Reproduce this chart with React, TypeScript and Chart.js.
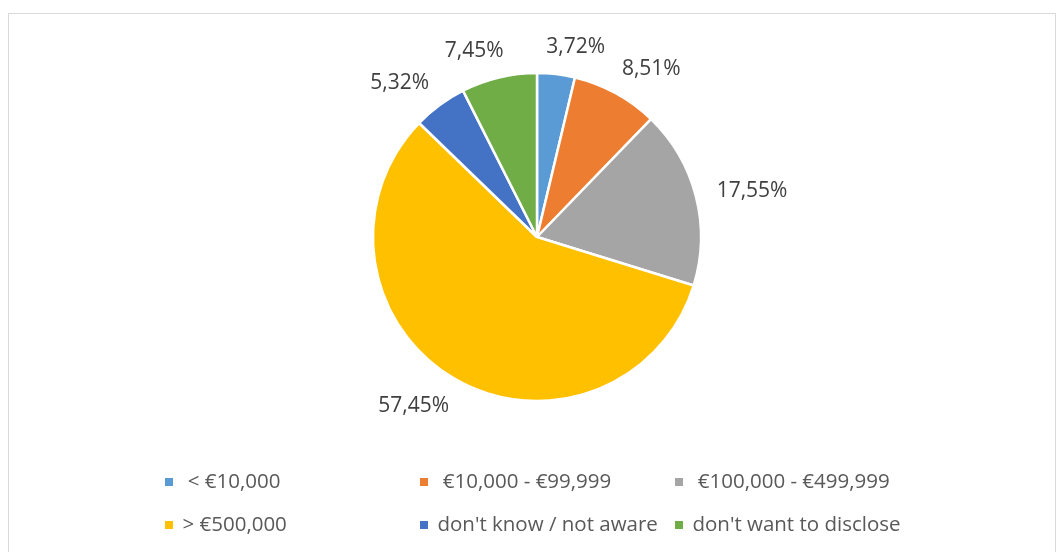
import React, { useEffect, useRef } from "react";
import { Chart, registerables } from "chart.js";

Chart.register(...registerables);

// ---- data ----
const categories = [
  " < €10,000",
  " €10,000 - €99,999",
  " €100,000 - €499,999",
  "> €500,000",
  "don't know / not aware",
  "don't want to disclose",
];
const shares = [3.72, 8.51, 17.55, 57.45, 5.32, 7.45];
const sliceColors = ["#5B9BD5", "#ED7D31", "#A5A5A5", "#FFC000", "#4472C4", "#70AD47"];

// ---- style ----
const W = 1058;
const H = 552;
const FONT = "'Open Sans', 'Noto Sans', sans-serif";
const LABEL_SIZE = 21;
const LEGEND_SIZE = 20.5;
const LABEL_GAP = 19;
const LABEL_SPREAD = 14;
const LABEL_DY = 2;
const LEGEND_COL_W = 255;
const LEGEND_SHIFT = -4;
const LEGEND_ROW1 = 482;
const LEGEND_ROW_H = 43;
const LEGEND_BOX = 8;
const LEGEND_TEXT_GAP = 9;

const fmt = (v: number) => v.toFixed(2).replace(".", ",") + "%";

const outLabels = {
  id: "outLabels",
  afterDatasetsDraw(chart: any) {
    const ctx = chart.ctx as CanvasRenderingContext2D;
    const meta = chart.getDatasetMeta(0);
    ctx.save();
    ctx.font = `${LABEL_SIZE}px ${FONT}`;
    ctx.fillStyle = "#404040";
    ctx.textAlign = "center";
    ctx.textBaseline = "middle";
    meta.data.forEach((arc: any, i: number) => {
      const p = arc.getProps(["x", "y", "startAngle", "endAngle", "outerRadius"], true);
      const a = (p.startAngle + p.endAngle) / 2;
      const text = fmt(shares[i]);
      const w = ctx.measureText(text).width;
      const h = LABEL_SIZE;
      const d = p.outerRadius + LABEL_GAP;
      const c = Math.cos(a);
      const s = Math.sin(a);
      const tx = p.x + c * (d + w / 2) + Math.sign(c) * Math.abs(s) * LABEL_SPREAD;
      const ty = p.y + s * (d + h / 2) + LABEL_DY;
      ctx.fillText(text, tx, ty);
    });
    ctx.restore();
  },
};

const boxLegend = {
  id: "boxLegend",
  afterDraw(chart: any) {
    const ctx = chart.ctx as CanvasRenderingContext2D;
    const labels = chart.data.labels as string[];
    const colors = chart.data.datasets[0].backgroundColor as string[];
    const cx = (chart.chartArea.left + chart.chartArea.right) / 2;
    ctx.save();
    ctx.font = `${LEGEND_SIZE}px ${FONT}`;
    ctx.textBaseline = "middle";
    ctx.textAlign = "left";
    const cols = 3;
    const lastW = Math.max(
      ...labels
        .filter((_, i) => i % cols === cols - 1)
        .map((l) => LEGEND_BOX + LEGEND_TEXT_GAP + ctx.measureText(l).width)
    );
    const total = (cols - 1) * LEGEND_COL_W + lastW;
    const left = cx - total / 2 + LEGEND_SHIFT;
    labels.forEach((l, i) => {
      const col = i % cols;
      const row = Math.floor(i / cols);
      const x = left + col * LEGEND_COL_W;
      const y = LEGEND_ROW1 + row * LEGEND_ROW_H;
      ctx.fillStyle = colors[i];
      ctx.fillRect(Math.round(x), Math.round(y - LEGEND_BOX / 2), LEGEND_BOX, LEGEND_BOX);
      ctx.fillStyle = "#595959";
      ctx.fillText(l, x + LEGEND_BOX + LEGEND_TEXT_GAP, y);
    });
    ctx.restore();
  },
};

export default function App() {
  const ref = useRef<HTMLCanvasElement>(null);
  useEffect(() => {
    if (!ref.current) return;
    const chart = new Chart(ref.current, {
      type: "pie",
      data: {
        labels: categories,
        datasets: [
          {
            data: shares,
            backgroundColor: sliceColors,
            borderColor: "#ffffff",
            borderWidth: 2.5,
          },
        ],
      },
      options: {
        responsive: false,
        animation: false,
        radius: 164,
        layout: { padding: { left: 373, right: 357, top: 73, bottom: 151 } },
        plugins: {
          legend: { display: false },
          tooltip: { enabled: false },
          title: { display: false },
        },
      } as any,
      plugins: [outLabels, boxLegend],
    });
    return () => chart.destroy();
  }, []);

  return (
    <div style={{ position: "fixed", left: 0, top: 0, width: W, height: H, background: "#fff", overflow: "hidden" }}>
      <div
        style={{
          position: "absolute",
          left: 8,
          top: 13,
          width: 1048,
          height: 600,
          border: "1px solid #d9d9d9",
          boxSizing: "border-box",
        }}
      />
      <canvas ref={ref} width={W} height={H} style={{ position: "absolute", left: 0, top: 0, width: W, height: H }} />
    </div>
  );
}
